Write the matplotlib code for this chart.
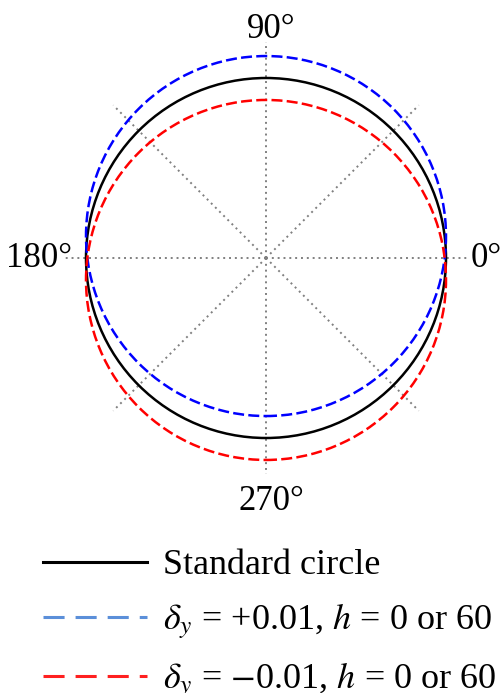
import matplotlib
matplotlib.use('Agg')
import matplotlib.pyplot as plt
from matplotlib.patches import Circle
from matplotlib.lines import Line2D
import numpy as np

plt.rcParams['font.family'] = ['Liberation Serif', 'DejaVu Serif']
plt.rcParams['mathtext.fontset'] = 'stix'

# data
series_labels = ['Standard circle',
                 r'$\delta_y$ = +0.01, $h$ = 0 or 60',
                 r'$\delta_y$ = $-$0.01, $h$ = 0 or 60']
center_offsets = [0.0, 0.122, -0.122]   # vertical shift of each curve (display units)
radii = [1.0, 1.0, 1.0]
spoke_angles = [0, 45, 90, 135, 180, 225, 270, 315]
angle_labels = ['0°', '90°', '180°', '270°']

# styles
plot_colors = ['black', '#0000ff', '#ff0000']
legend_colors = ['black', '#5b8fd9', '#ff2020']
plot_styles = ['-', (0, (4.4, 1.7)), (0, (4.4, 1.7))]
legend_styles = ['-', (0, (6.9, 3.6)), (0, (6.9, 3.6))]

W, H = 502, 693
fig = plt.figure(figsize=(W / 100, H / 100), dpi=100)

# axes: 180 px per unit, centre at (266, 258) px from top-left
s = 180.0
cx, cy = 266.0, 258.0
ax_h = 520.0
ax = fig.add_axes([0, (H - ax_h) / H, 1, ax_h / H])
ax.set_xlim(-cx / s, (W - cx) / s)
ax.set_ylim(-(ax_h - cy) / s, cy / s)
ax.axis('off')

# dotted spokes
for a in spoke_angles:
    L = 1.13 if a in (0, 180) else 1.2
    t = np.deg2rad(a)
    ax.plot([0, L * np.cos(t)], [0, L * np.sin(t)], color='#808080',
            lw=1.4, linestyle=(0, (1, 2)), zorder=1)

# curves
for off, r, c, ls in zip(center_offsets, radii, plot_colors, plot_styles):
    ax.add_patch(Circle((0, off), r, fill=False, edgecolor=c, linestyle=ls,
                        lw=1.8, zorder=3))

# angle labels
fs = 25
ax.text(0.03, 1.222, angle_labels[1], ha='center', va='baseline', fontsize=fs)
ax.text(0.03, -1.40, angle_labels[3], ha='center', va='baseline', fontsize=fs)
ax.text(-1.078, -0.05, angle_labels[2], ha='right', va='baseline', fontsize=fs)
ax.text(1.135, -0.05, angle_labels[0], ha='left', va='baseline', fontsize=fs)

# legend
handles = [Line2D([], [], color=c, linestyle=ls, lw=2.2)
           for c, ls in zip(legend_colors, legend_styles)]
fig.legend(handles, series_labels, loc='upper left',
           bbox_to_anchor=(43 / W, (H - 549) / H), frameon=False,
           fontsize=26, handlelength=2.88, handletextpad=0.44,
           borderpad=0, borderaxespad=0, labelspacing=0.53)

fig.savefig('out.png', dpi=100)
